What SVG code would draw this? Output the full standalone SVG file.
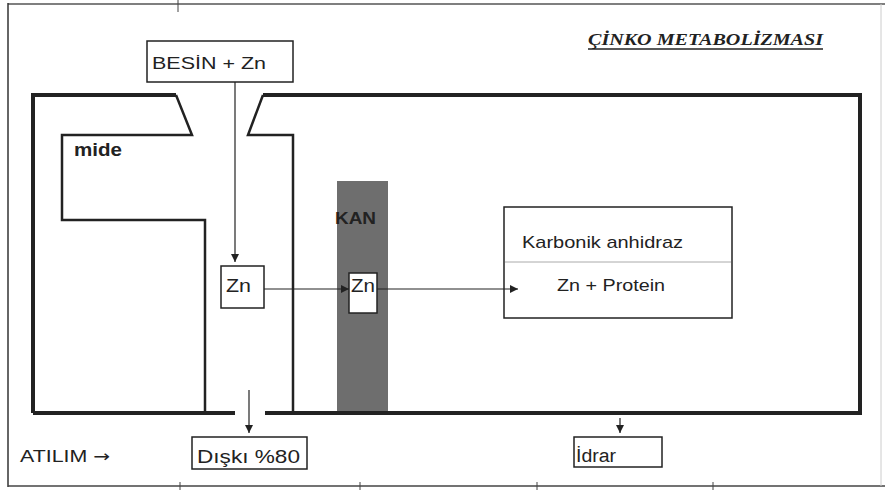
<svg xmlns="http://www.w3.org/2000/svg" width="885" height="490" viewBox="0 0 885 490">
<style>
.t{font-family:"Liberation Sans",Arial,sans-serif;fill:#222}
.box{fill:#fff;stroke:#222;stroke-width:1.5}
.thick{fill:none;stroke:#222;stroke-width:4}
.med{fill:none;stroke:#222;stroke-width:2.5}
.conn{fill:none;stroke:#222;stroke-width:1.2}
.tick{stroke:#444;stroke-width:1}
</style>
<defs>
<marker id="ah" viewBox="0 0 10 10" refX="10" refY="5" markerWidth="8" markerHeight="8" markerUnits="userSpaceOnUse" orient="auto">
<path d="M0,0 L10,5 L0,10 z" fill="#222"/>
</marker>
</defs>
<rect width="885" height="490" fill="#fff"/>
<g id="frame">
<line x1="8" y1="4" x2="885" y2="4" stroke="#555" stroke-width="1.5"/>
<line x1="8" y1="3" x2="8" y2="487" stroke="#333" stroke-width="1.5"/>
<line x1="8" y1="486" x2="885" y2="486" stroke="#444" stroke-width="1.5"/>
<line x1="881" y1="4" x2="881" y2="486" stroke="#ccc" stroke-width="1"/>
<line class="tick" x1="178" y1="0" x2="178" y2="12"/>
<line class="tick" x1="180" y1="482" x2="180" y2="490"/>
<line class="tick" x1="360" y1="482" x2="360" y2="490"/>
<line class="tick" x1="537" y1="482" x2="537" y2="490"/>
<line class="tick" x1="713" y1="482" x2="713" y2="490"/>
</g>
<g id="kan">
<rect x="337" y="181" width="51" height="232" fill="#6e6e6e"/>
<text x="335" y="224" class="t" font-size="17" font-weight="bold" fill="#1e1e1e" textLength="41" lengthAdjust="spacingAndGlyphs">KAN</text>
</g>
<g id="body">
<path class="thick" d="M33,413 L33,95 L176,95"/>
<path class="med" d="M176,95 L192,135 L62,135 L62,220 L205,220 L205,413"/>
<path class="med" d="M263,95 L248,135 L293,135 L293,413"/>
<path class="thick" d="M263,95 L860,95 L860,413 L265,413"/>
<line class="thick" x1="33" y1="413" x2="235" y2="413"/>
<text x="74" y="156" class="t" font-size="18" font-weight="bold" fill="#3d4a45" textLength="48" lengthAdjust="spacingAndGlyphs">mide</text>
</g>
<g id="title">
<text x="588" y="45" font-family="'Liberation Serif','Times New Roman',serif" font-size="17" font-weight="bold" font-style="italic" fill="#222" textLength="235" lengthAdjust="spacingAndGlyphs">ÇİNKO METABOLİZMASI</text>
<line x1="588" y1="49" x2="823" y2="49" stroke="#222" stroke-width="1.5"/>
</g>
<g id="besin">
<rect class="box" x="147" y="41" width="146" height="41"/>
<text x="152" y="69" class="t" font-size="17" textLength="114" lengthAdjust="spacingAndGlyphs">BESİN + Zn</text>
</g>
<g id="zn1">
<rect class="box" x="221" y="266" width="43" height="42"/>
<text x="226" y="292" class="t" font-size="18" textLength="25" lengthAdjust="spacingAndGlyphs">Zn</text>
</g>
<g id="zn2">
<rect class="box" x="349" y="273" width="28" height="40"/>
<text x="351" y="292" class="t" font-size="18" textLength="24" lengthAdjust="spacingAndGlyphs">Zn</text>
</g>
<g id="karbonik">
<rect class="box" x="504" y="207" width="228" height="111"/>
<line x1="505" y1="262" x2="731" y2="262" stroke="#aaa" stroke-width="1"/>
<text x="522" y="248" class="t" font-size="17" fill="#555" textLength="161" lengthAdjust="spacingAndGlyphs">Karbonik anhidraz</text>
<text x="557" y="291" class="t" font-size="16" textLength="108" lengthAdjust="spacingAndGlyphs">Zn + Protein</text>
</g>
<g id="atilim">
<text x="20" y="462" class="t" font-size="17" fill="#333" textLength="90" lengthAdjust="spacingAndGlyphs">ATILIM <tspan font-family="'DejaVu Sans',sans-serif" font-size="16">→</tspan></text>
</g>
<g id="diski">
<rect class="box" x="192" y="437" width="115" height="32"/>
<text x="197" y="463" class="t" font-size="19" textLength="103" lengthAdjust="spacingAndGlyphs">Dışkı %80</text>
</g>
<g id="idrar">
<rect class="box" x="574" y="437" width="88" height="30"/>
<text x="576" y="462" class="t" font-size="18" textLength="40" lengthAdjust="spacingAndGlyphs">İdrar</text>
</g>
<g id="connectors">
<line class="conn" x1="235" y1="82" x2="235" y2="262" marker-end="url(#ah)"/>
<line class="conn" x1="264" y1="289" x2="349" y2="289" marker-end="url(#ah)"/>
<line class="conn" x1="377" y1="289" x2="518" y2="289" marker-end="url(#ah)"/>
<line class="conn" x1="249" y1="390" x2="249" y2="433" marker-end="url(#ah)"/>
<line class="conn" x1="620" y1="418" x2="620" y2="433" marker-end="url(#ah)"/>
</g>
</svg>
